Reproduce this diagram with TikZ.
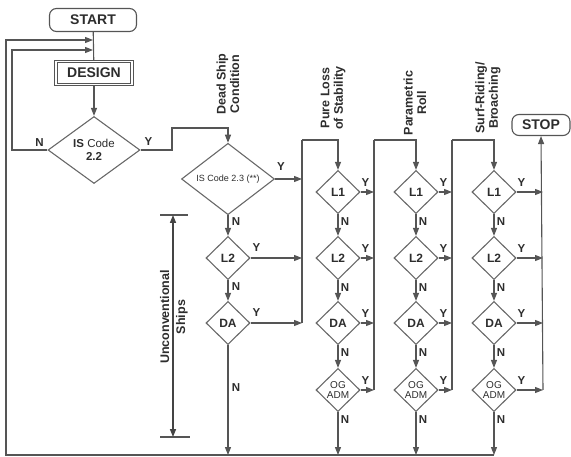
\documentclass[tikz,border=0pt]{standalone}
\usepackage{fontspec}
\setmainfont{Liberation Sans}
\usetikzlibrary{shapes.geometric,arrows.meta,calc}
\definecolor{linec}{RGB}{85,85,85}
\definecolor{diac}{RGB}{105,105,105}
\definecolor{txt}{RGB}{45,45,45}
\begin{document}
\begin{tikzpicture}[x=1pt,y=-1pt,
  line/.style={draw=linec, line width=1.1pt},
  arr/.style={line, -{Triangle[length=8pt,width=6pt]}},
  dia/.style={diamond, draw=diac, line width=1.1pt, inner sep=0pt,
    minimum width=44pt, minimum height=43pt, text=txt,
    font=\bfseries\fontsize{12}{13}\selectfont},
  ogdia/.style={dia, align=center, font=\fontsize{10}{9.5}\selectfont},
  term/.style={draw=linec, line width=1.1pt, rounded corners=7pt, text=txt,
    inner sep=0pt, font=\bfseries\fontsize{14}{16}\selectfont},
  design/.style={draw=linec, double, double distance=1.6pt, line width=1.1pt,
    text=txt, inner sep=0pt, minimum width=76pt, minimum height=23pt,
    font=\bfseries\fontsize{14}{16}\selectfont},
  lab/.style={text=txt, inner sep=0pt, font=\bfseries\fontsize{11.5}{12}\selectfont},
  head/.style={text=txt, inner sep=0pt, rotate=90, align=center,
    font=\bfseries\fontsize{12.5}{13.5}\selectfont},
  dim/.style={draw=linec!80!black, line width=1.5pt},
]
\useasboundingbox (0,0) rectangle (571,457);

% left column
\node[term, minimum width=87pt, minimum height=23pt] (start) at (93,20) {START};
\node[design] (design) at (94,73) {DESIGN};
\node[dia, minimum width=92pt, minimum height=67pt, align=center,
  font=\fontsize{11.5}{12.5}\selectfont] (is22) at (94,150) {{\bfseries IS} Code\\{\bfseries 2.2}};
\coordinate (j2) at (93,40);
\coordinate (j1) at (93,50);
\draw[line] (start) -- (design);
\draw[arr] (design) -- (is22);

% loops
\coordinate (inL) at (12,50);
\coordinate (outL) at (6,40);
\coordinate (bl) at (6,455);
\coordinate (br) at (494,455);
\draw[arr] (is22.west) -| (inL) -- (j1);
\draw[arr] (br) -- (bl) -- (outL) -- (j2);
\node[lab] at ($(is22.west)+(-8,-7)$) {N};
\node[lab] at ($(is22.east)+(8,-8)$) {Y};

% dead ship column
\node[dia, minimum width=93pt, minimum height=68pt,
  font=\fontsize{9}{10}\selectfont] (is23) at (228,179) {IS Code 2.3 (**)};
\node[dia] (dl2) at (228,258) {L2};
\node[dia] (dda) at (228,323) {DA};
\coordinate (k1) at (172,128);
\coordinate (bD) at (228,455);
\draw[arr] (is22.east) -| (k1) -| (is23.north);
\draw[arr] (is23.south) -- (dl2.north);
\draw[arr] (dl2.south) -- (dda.north);
\draw[arr] (dda.south) -- (bD);
\node[lab] at ($(is23.east)+(6,-12)$) {Y};
\node[lab] at ($(is23.south)+(8,6)$) {N};
\node[lab] at ($(dl2.east)+(6,-10)$) {Y};
\node[lab] at ($(dl2.south)+(8,6)$) {N};
\node[lab] at ($(dda.east)+(6,-10)$) {Y};
\node[lab] at (236,388) {N};

% vertical collectors
\coordinate (v1t) at (302,140);
\coordinate (v1b) at (302,323);
\coordinate (v2t) at (374,140);
\coordinate (v2b) at (374,390);
\coordinate (v3t) at (452,140);
\coordinate (v3b) at (452,390);
\coordinate (v4b) at (543,390);

% three hazard columns
\foreach \c/\x in {p/338, r/416, s/494} {
  \node[dia] (\c1) at (\x,192) {L1};
  \node[dia] (\c2) at (\x,258) {L2};
  \node[dia] (\c3) at (\x,323) {DA};
  \node[ogdia] (\c4) at (\x,390) {OG\\ADM};
  \coordinate (\c b) at (\x,455);
  \draw[arr] (\c1.south) -- (\c2.north);
  \draw[arr] (\c2.south) -- (\c3.north);
  \draw[arr] (\c3.south) -- (\c4.north);
  \draw[arr] (\c4.south) -- (\c b);
  \foreach \i in {1,2,3,4} {
    \node[lab] at ($(\c\i.east)+(5,-9)$) {Y};
    \node[lab] at ($(\c\i.south)+(7,7)$) {N};
  }
}

\draw[line] (v1b) -- (v1t);
\draw[arr] (v1t) -| (p1.north);
\draw[line] (v2b) -- (v2t);
\draw[arr] (v2t) -| (r1.north);
\draw[line] (v3b) -- (v3t);
\draw[arr] (v3t) -| (s1.north);

\draw[arr] (is23.east) -- (is23.east -| v1t);
\draw[arr] (dl2.east) -- (dl2.east -| v1t);
\draw[arr] (dda.east) -- (dda.east -| v1t);
\foreach \i in {1,2,3,4} {
  \draw[arr] (p\i.east) -- (p\i.east -| v2t);
  \draw[arr] (r\i.east) -- (r\i.east -| v3t);
  \draw[arr] (s\i.east) -- (s\i.east -| v4b);
}

\node[term, minimum width=58pt, minimum height=21pt] (stop) at (541,125) {STOP};
\draw[arr] (v4b) -- (stop.south);

% headers
\node[head] (hd) at (228,84) {Dead Ship\\Condition};
\node[head] (hp) at (333,98) {Pure Loss\\of Stability};
\node[head] (hr) at (415,103) {Parametric\\Roll};
\node[head] (hs) at (488,98) {Surf-Riding/\\Broaching};

% unconventional ships dimension
\coordinate (dt) at (173,215);
\coordinate (db) at (173,437);
\draw[line] (160,215) -- (188,215);
\draw[line] (160,437) -- (190,437);
\draw[dim, {Triangle[length=8pt,width=6pt]}-{Triangle[length=8pt,width=6pt]}] (dt) -- (db);
\node[head, font=\bfseries\fontsize{12.5}{16}\selectfont] (hu) at (174,317) {Unconventional\\Ships};
\end{tikzpicture}
\end{document}
